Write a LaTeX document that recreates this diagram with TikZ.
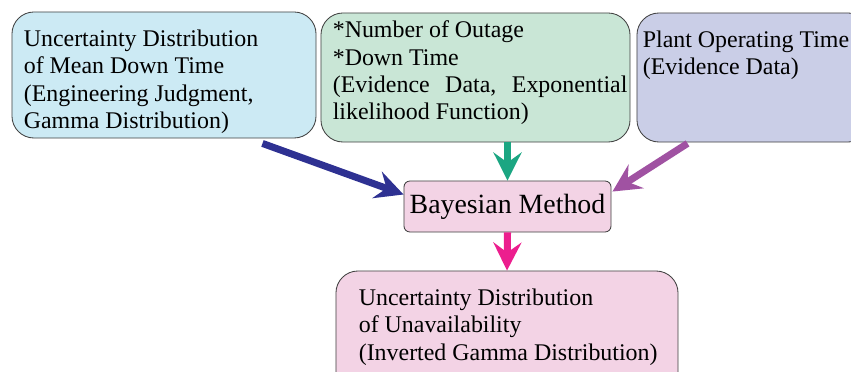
\documentclass[tikz,border=0pt]{standalone}
\usepackage{fontspec}
\setmainfont{Liberation Serif}
\usetikzlibrary{calc,arrows.meta}

\definecolor{judgeFill}{HTML}{CCEAF4}
\definecolor{evidFill}{HTML}{C9E6D6}
\definecolor{plantFill}{HTML}{CACEE7}
\definecolor{pinkFill}{HTML}{F3D3E5}
\definecolor{judgeArrow}{HTML}{2E3192}
\definecolor{evidArrow}{HTML}{1BA682}
\definecolor{plantArrow}{HTML}{A052A2}
\definecolor{pinkArrow}{HTML}{EC1E8E}

\begin{document}
\begin{tikzpicture}[
    x=0.025cm, y=-0.025cm,
    every node/.style={font=\fontsize{17}{19.5}\selectfont},
    box/.style={rectangle, draw=black!75, line width=0.6pt, rounded corners=0.55cm,
                inner sep=0pt},
    txt/.style={anchor=north west, align=left, inner sep=0pt},
    arrow/.style={-{Stealth[length=0.7cm, width=0.7cm, inset=0.25cm]}, line width=5pt},
]
\useasboundingbox (0,0) rectangle (851,372);
\clip (0,0) rectangle (851,372);

% boxes
\node[box, fill=judgeFill, minimum width=7.6cm, minimum height=3.15cm] (judgeBox) at (164,75) {};
\node[box, fill=evidFill, minimum width=7.725cm, minimum height=3.225cm] (evidBox) at (475.5,77.5) {};
\node[box, fill=plantFill, minimum width=5.825cm, minimum height=3.225cm] (plantBox) at (753.5,77.5) {};
\node[box, fill=pinkFill, rounded corners=0.15cm, minimum width=5.175cm, minimum height=1.275cm,
      font=\fontsize{19.8}{24}\selectfont] (bayes) at (507.5,206.5) {Bayesian Method};
\node[box, fill=pinkFill, minimum width=8.55cm, minimum height=3.2cm] (unavBox) at (507,335) {};

% texts
\node[txt] (judgeText) at ($(judgeBox.north west)+(12,18)$)
    {Uncertainty Distribution\\of Mean Down Time\\(Engineering Judgment,\\Gamma Distribution)};
\node[txt] (evidText) at ($(evidBox.north west)+(12,8)$)
    {*Number of Outage\\{*}Down Time\\(Evidence\hspace{0.65em}Data,\hspace{0.65em}Exponential\\likelihood Function)};
\node[txt] (plantText) at ($(plantBox.north west)+(6,18)$)
    {Plant Operating Time\\(Evidence Data)};
\node[txt] (unavText) at ($(unavBox.north west)+(23,18)$)
    {Uncertainty Distribution\\of Unavailability\\(Inverted Gamma Distribution)};

% arrows
\draw[arrow, judgeArrow] ($(judgeBox.south east)+(-54,5)$) -- ($(bayes.west)+(0,-12)$);
\draw[arrow, evidArrow] (bayes.north |- evidBox.south) -- (bayes.north);
\draw[arrow, plantArrow] ($(plantBox.south west)+(51,1)$) -- ($(bayes.north east)+(1,11)$);
\draw[arrow, pinkArrow] (bayes.south) -- (unavBox.north);
\end{tikzpicture}
\end{document}
